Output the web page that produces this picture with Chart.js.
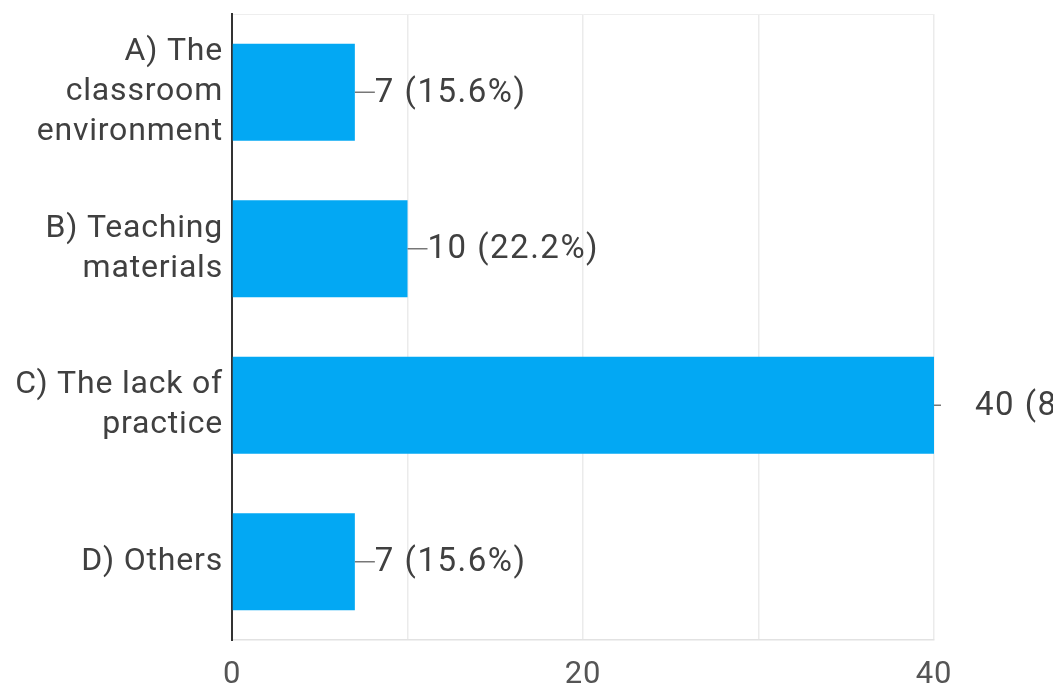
<!DOCTYPE html>
<html>
<head>
<meta charset="utf-8">
<script src="https://cdn.jsdelivr.net/npm/chart.js@4/dist/chart.umd.min.js"></script>
<style>
  html, body { margin: 0; padding: 0; background: #fff; }
  #wrap { width: 1053px; height: 687px; }
</style>
</head>
<body>
<div id="wrap"><canvas id="answersChart"></canvas></div>
<script>
// answer options (multi-line) and how many people picked each
const categories = [
    ["A) The", "classroom", "environment"],
    ["B) Teaching", "materials"],
    ["C) The lack of", "practice"],
    ["D) Others"]
];
const answerCounts = [7, 10, 40, 7];
const respondents = 45;
const xTicks = [0, 20, 40];

// slightly wider lettering for all text on the canvas
const spacing = {
    id: "spacing",
    beforeDraw(chart) {
        chart.ctx.letterSpacing = "0.8px";
    }
};

// "7 (15.6%)" style labels with a short leader line from the bar end
const valueLabels = {
    id: "valueLabels",
    afterDatasetsDraw(chart) {
        const ctx = chart.ctx;
        const area = chart.chartArea;
        const bars = chart.getDatasetMeta(0).data;
        ctx.save();
        ctx.font = "33px Roboto";
        ctx.letterSpacing = "1.5px";
        ctx.textBaseline = "middle";
        ctx.textAlign = "left";
        bars.forEach((bar, i) => {
            const v = answerCounts[i];
            const pct = (v / respondents * 100).toFixed(1);
            const atEdge = bar.x >= area.right - 1;
            const lineEnd = bar.x + (atEdge ? 7 : 20);
            const textX = bar.x + (atEdge ? 41 : 20);
            ctx.strokeStyle = "#777";
            ctx.lineWidth = 1.5;
            ctx.beginPath();
            ctx.moveTo(bar.x, bar.y);
            ctx.lineTo(lineEnd, bar.y);
            ctx.stroke();
            ctx.fillStyle = "#404040";
            ctx.fillText(v + " (" + pct + "%)", textX, bar.y + 1);
        });
        ctx.restore();
    }
};

new Chart(document.getElementById("answersChart"), {
    type: "bar",
    data: {
        labels: categories,
        datasets: [{
            data: answerCounts,
            backgroundColor: "#03a8f3",
            borderWidth: 0,
            barPercentage: 0.62,
            categoryPercentage: 1
        }]
    },
    options: {
        indexAxis: "y",
        responsive: true,
        maintainAspectRatio: false,
        animation: false,
        layout: {
            padding: { top: 14, right: 119, bottom: 0, left: 0 }
        },
        scales: {
            x: {
                min: 0,
                max: 40,
                afterFit(scale) {
                    scale.height = 47;
                    scale.paddingLeft = 0;
                    scale.paddingRight = 0;
                },
                ticks: {
                    stepSize: 10,
                    padding: 17,
                    color: "#555",
                    font: { family: "Roboto", size: 31 },
                    callback: (value) => xTicks.includes(value) ? value : ""
                },
                grid: { color: "#ebebeb", lineWidth: 1.5, drawTicks: false },
                border: { color: "#e2e2e2", width: 1.5 }
            },
            y: {
                afterFit(scale) {
                    scale.width = 232;
                    scale.paddingTop = 0;
                    scale.paddingBottom = 0;
                },
                ticks: {
                    padding: 9,
                    color: "#404040",
                    font: { family: "Roboto", size: 32, lineHeight: 1.25 }
                },
                grid: {
                    drawTicks: false,
                    color: (c) => c.index === 0 ? "#eeeeee" : "rgba(0,0,0,0)"
                },
                border: { color: "#333", width: 2 }
            }
        },
        plugins: {
            legend: { display: false },
            tooltip: { enabled: false }
        }
    },
    plugins: [spacing, valueLabels]
});
</script>
</body>
</html>
